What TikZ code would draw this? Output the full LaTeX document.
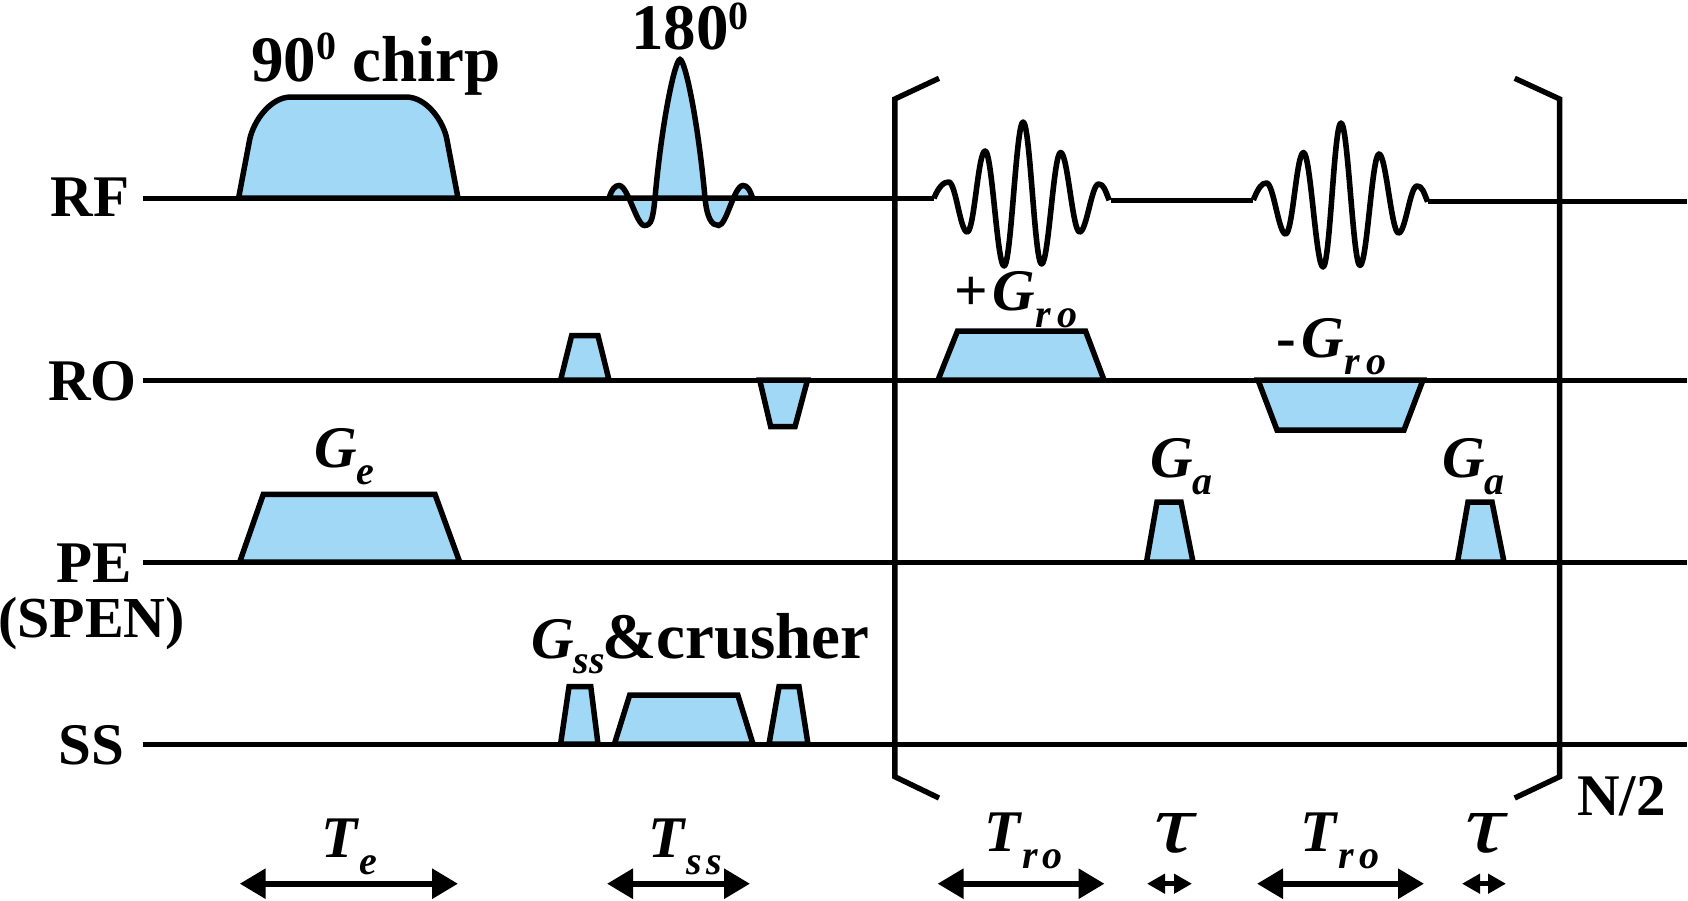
\documentclass[tikz,border=0pt]{standalone}
\usepackage{fontspec}
\setmainfont{Liberation Serif}
\usetikzlibrary{arrows.meta,calc}
\definecolor{pulsefill}{HTML}{A0D8F6}
\newcommand{\bigfont}[1]{\fontsize{#1}{#1}\selectfont}
\newcommand{\subtxt}[2]{\textit{#1}\raisebox{-17pt}{\bigfont{40}\textit{#2}}}
\newcommand{\degr}[1]{\raisebox{#1}{\bigfont{40}0}}
\tikzset{rail/.style={line width=5.4pt},
  pulse/.style={draw, line width=5.5pt, fill=pulsefill, line join=miter},
  echo/.style={draw, line width=5.6pt, line join=round},
  brk/.style={draw, line width=5.4pt, line join=miter},
  lab/.style={inner sep=0pt, anchor=base west, font=\bigfont{59}\bfseries},
  span/.style={line width=6pt, {Triangle[length=26pt,width=29pt]}-{Triangle[length=26pt,width=29pt]}},
  tinyspan/.style={line width=5pt, {Triangle[length=18pt,width=19pt,sep=2pt]}-{Triangle[length=18pt,width=19pt,sep=2pt]}}}

\begin{document}
\begin{tikzpicture}[x=1pt,y=-1pt]
  \useasboundingbox (0,0) rectangle (1688,900);
  % RF pulses
  \draw[pulse] (238.6,198) -- (249.6,140) .. controls (253,122) and (270,97) .. (291,97)
    -- (406,97) .. controls (427,97) and (444,122) .. (447,140) -- (458,198) -- cycle;
  \draw[pulse] (609,198) .. controls +(3,-9) and +(-4,0) .. (619,185.5)
    .. controls +(9,0) and +(-8,0) .. (644.5,225.5)
    .. controls +(7,0) and +(-2,20) .. (655,198)
    .. controls (662,120) and (675,59.5) .. (680,59.5)
    .. controls (685,59.5) and (698,120) .. (705,198)
    .. controls +(2,20) and +(-7,0) .. (718.6,225.5)
    .. controls +(8,0) and +(-9,0) .. (743,185.5)
    .. controls +(4,0) and +(-3,-9) .. (752.6,198) -- cycle;
  % echo trains
  \draw[echo] (933.9,198.3) .. controls +(5,-12) and +(-5,0) .. (948.7,182)
    \foreach \px/\py in {967.2/232,985.1/151,1004.1/266,1023.1/122,1041.6/264,1060.6/152.5,1079.6/232,1098.6/184}
    { .. controls +(7,0) and +(-7,0) .. (\px,\py) } .. controls +(5,0) and +(-4,-10) .. (1109.2,200.3);
  \draw[echo] (1253.3,200) .. controls +(5,-12) and +(-5,0) .. (1266.5,183)
    \foreach \px/\py in {1285.6/234,1303.5/152.5,1323/267,1341/123,1360/265.5,1379/154,1398.5/233,1417/186}
    { .. controls +(7,0) and +(-7,0) .. (\px,\py) } .. controls +(5,0) and +(-4,-10) .. (1427.6,201.7);
  % gradients
  \draw[pulse] (560.6,380) -- (571.6,335.7) -- (598,335.7) -- (609,380) -- cycle;
  \draw[pulse] (759.7,380) -- (770.7,426.7) -- (795,426.7) -- (807.5,380) -- cycle;
  \draw[pulse] (938,380) -- (957.5,331) -- (1085.5,331) -- (1104,380) -- cycle;
  \draw[pulse] (1258,380) -- (1277,430) -- (1404,430) -- (1423,380) -- cycle;
  \draw[pulse] (239.7,562) -- (263.3,494.3) -- (435,494.3) -- (459.7,562) -- cycle;
  \draw[pulse] (1146.5,562) -- (1157,502) -- (1181,502) -- (1193,562) -- cycle;
  \draw[pulse] (1457.5,562) -- (1468,502) -- (1492,502) -- (1504,562) -- cycle;
  \draw[pulse] (560.6,744) -- (569,686.7) -- (590.8,686.7) -- (598,744) -- cycle;
  \draw[pulse] (614.4,744) -- (629.7,695) -- (737.8,695) -- (753,744) -- cycle;
  \draw[pulse] (769,744) -- (779,686.7) -- (799,686.7) -- (808,744) -- cycle;
  % rails
  \coordinate (rfA) at (142.6,198.3);
  \coordinate (rfB) at (934,198.3);
  \coordinate (rfC) at (1110.8,200.3);
  \coordinate (rfD) at (1253,200.3);
  \coordinate (rfE) at (1427.6,201.5);
  \coordinate (rfF) at (1687,201.5);
  \draw[rail] (rfA) -- (rfB);
  \draw[rail] (rfC) -- (rfD);
  \draw[rail] (rfE) -- (rfF);
  \foreach \nm/\yy in {ro/380.3,pe/562.3,ss/744.3}{
    \coordinate (\nm A) at (142.6,\yy);
    \coordinate (\nm B) at (1687,\yy);
    \draw[rail] (\nm A) -- (\nm B);
  }
  % brackets
  \draw[brk] (939,78.3) -- (894.8,99) -- (894.8,776.7) -- (939,798);
  \draw[brk] (1514.7,78.3) -- (1559.6,99) -- (1559.6,776.7) -- (1514.7,798);
  % channel names
  \node[lab] (rf) at (50.5,216) {RF};
  \node[lab] (ro) at (48,400) {RO};
  \node[lab] (pe) at (56.5,582.7) {PE};
  \node[lab, font=\bigfont{58}\bfseries] (spen) at (-2,637) {(SPEN)};
  \node[lab] (ss) at (58,764) {SS};
  \node[lab] (nhalf) at (1577,815.7) {N/2};
  % pulse names
  \node[lab, font=\bigfont{65}\bfseries] (chirp) at (251,81.7) {90\degr{22pt} chirp};
  \node[lab, font=\bigfont{65}\bfseries] (refoc) at (631,49.3) {180\degr{20pt}};
  \node[lab] (ge) at (314,467) {\subtxt{G}{e}};
  \node[lab] (garoA) at (1150,477) {\subtxt{G}{a}};
  \node[lab] (garoB) at (1442,477) {\subtxt{G}{a}};
  \node[lab] (gplus) at (954,310) {+\kern5pt\subtxt{G}{r\kern6.5pt o}};
  \node[lab] (gminus) at (1276,357) {-\kern6pt\subtxt{G}{r\kern6.5pt o}};
  \node[lab] (gss) at (531,658) {\textit{G}\raisebox{-15pt}{\bigfont{40}\textit{ss}}};
  \node[lab, font=\bigfont{65}\bfseries] (crush) at (602,658) {\&crusher};
  % timing
  \node[lab] (te) at (321,857) {\subtxt{T}{e}};
  \node[lab] (tss) at (648,857) {\subtxt{T}{s\kern5pt s}};
  \node[lab] (troA) at (984,851.7) {\subtxt{T}{r\kern5pt o}};
  \node[lab] (troB) at (1300.5,851.7) {\subtxt{T}{r\kern5pt o}};
  \node[lab, font=\bigfont{85}\itshape] (tauA) at (1154,852.7) {\scalebox{1.3}[1]{τ}};
  \node[lab, font=\bigfont{85}\itshape] (tauB) at (1465,852.7) {\scalebox{1.3}[1]{τ}};
  \coordinate (teL) at (239.7,883.7);
  \coordinate (teR) at (458,883.7);
  \coordinate (tssL) at (607,883.7);
  \coordinate (tssR) at (750,883.7);
  \coordinate (troAL) at (937.6,883.7);
  \coordinate (troAR) at (1104.5,883.7);
  \coordinate (troBL) at (1257,883.7);
  \coordinate (troBR) at (1424,883.7);
  \coordinate (tauAL) at (1145,883.7);
  \coordinate (tauAR) at (1194,883.7);
  \coordinate (tauBL) at (1460,883.7);
  \coordinate (tauBR) at (1508,883.7);
  \draw[span] (teL) -- (teR);
  \draw[span] (tssL) -- (tssR);
  \draw[span] (troAL) -- (troAR);
  \draw[span] (troBL) -- (troBR);
  \draw[tinyspan] (tauAL) -- (tauAR);
  \draw[tinyspan] (tauBL) -- (tauBR);
\end{tikzpicture}
\end{document}
